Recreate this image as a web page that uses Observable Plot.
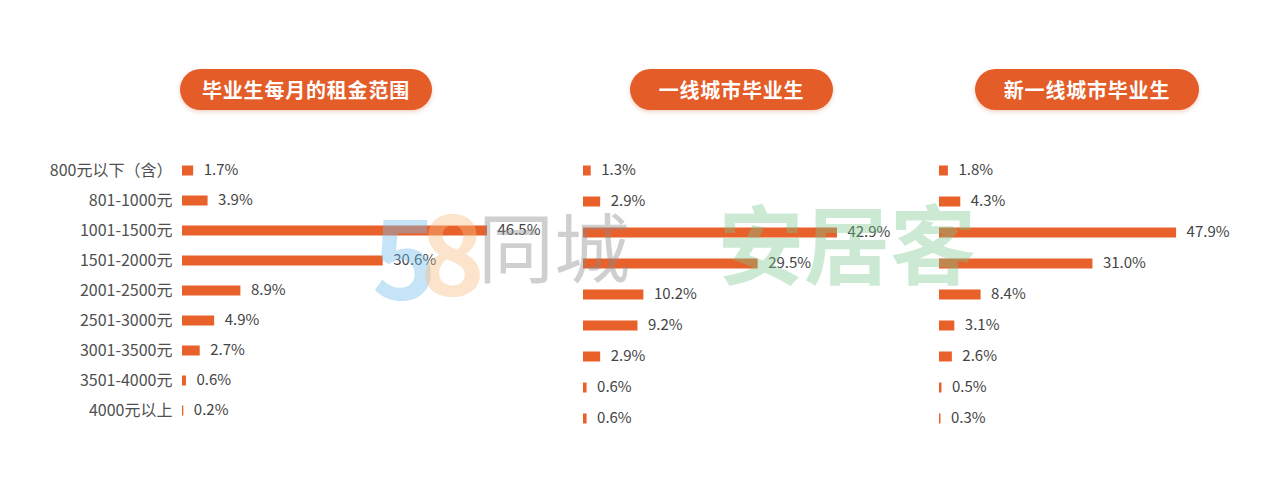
<!DOCTYPE html>
<html>
<head>
<meta charset="utf-8">
<script src="https://cdn.jsdelivr.net/npm/d3@7"></script>
<script src="https://cdn.jsdelivr.net/npm/@observablehq/plot@0.6"></script>
<style>
  html, body { margin: 0; padding: 0; background: #fff; }
  #root { position: relative; width: 1280px; height: 494px; overflow: hidden; font-family: "Noto Sans CJK SC", "Noto Sans", sans-serif; }
  .panel { position: absolute; top: 0; }
  .pill { position: absolute; top: 69px; height: 41px; border-radius: 21px; background: #E45C28; color: #fff;
          font-weight: 700; font-size: 20px; line-height: 41px; text-align: center; letter-spacing: 0.8px;
          box-shadow: 0 2px 4px rgba(200,80,30,0.25); }
  .wm { position: absolute; pointer-events: none; white-space: nowrap; line-height: 1; }
</style>
</head>
<body>
<div id="root"></div>
<script>
const categories = ["800元以下（含）", "801-1000元", "1001-1500元", "1501-2000元", "2001-2500元", "2501-3000元", "3001-3500元", "3501-4000元", "4000元以上"];
const allGraduates = [1.7, 3.9, 46.5, 30.6, 8.9, 4.9, 2.7, 0.6, 0.2];
const tier1Graduates = [1.3, 2.9, 42.9, 29.5, 10.2, 9.2, 2.9, 0.6, 0.6];
const newTier1Graduates = [1.8, 4.3, 47.9, 31.0, 8.4, 3.1, 2.6, 0.5, 0.3];
const panelTitles = ["毕业生每月的租金范围", "一线城市毕业生", "新一线城市毕业生"];

const root = document.getElementById("root");
const ORANGE = "#E8602A";

function makePanel({values, left, width, x0, pxPer, yTop, yBottom, showAxis}) {
  const data = categories.map((c, i) => ({cat: c, v: values[i]}));
  const marks = [];
  if (showAxis) {
    marks.push(Plot.ruleX([0], {y1: categories[0], y2: categories[categories.length - 1], stroke: "#e6e6e6", strokeWidth: 1, insetTop: -14, insetBottom: -14}));
    marks.push(Plot.axisY({tickSize: 0, tickPadding: 10, label: null, fontSize: 16, fill: "#505050"}));
  }
  marks.push(Plot.ruleY(data, {y: "cat", x1: 0, x2: "v", stroke: ORANGE, strokeWidth: 10}));
  marks.push(Plot.text(data, {y: "cat", x: "v", text: d => d.v.toFixed(1) + "%", dx: 10, textAnchor: "start", fill: "#444", fontSize: 15}));
  const chart = Plot.plot({
    width, height: 494,
    marginLeft: x0, marginRight: 0, marginTop: 0, marginBottom: 0,
    style: {fontFamily: "Noto Sans CJK SC, Noto Sans, sans-serif", fontSize: "15px", color: "#555", background: "transparent"},
    x: {domain: [0, 60], range: [x0, x0 + 60 * pxPer], axis: null},
    y: {type: "point", domain: categories, range: [yTop, yBottom], padding: 0, axis: null},
    marks
  });
  const wrap = document.createElement("div");
  wrap.className = "panel";
  wrap.style.left = left + "px";
  wrap.appendChild(chart);
  root.appendChild(wrap);
}

makePanel({values: allGraduates, left: 0, width: 560, x0: 182, pxPer: 6.56, yTop: 169, yBottom: 410, showAxis: true});
makePanel({values: tier1Graduates, left: 560, width: 360, x0: 23, pxPer: 5.92, yTop: 169, yBottom: 418, showAxis: false});
makePanel({values: newTier1Graduates, left: 920, width: 360, x0: 19, pxPer: 4.95, yTop: 169, yBottom: 418, showAxis: false});

const pills = [{left: 180, width: 252}, {left: 630, width: 203}, {left: 975, width: 224}];
pills.forEach((p, i) => {
  const d = document.createElement("div");
  d.className = "pill";
  d.style.left = p.left + "px";
  d.style.width = p.width + "px";
  d.textContent = panelTitles[i];
  root.appendChild(d);
});

// faint watermark
const wms = [
  {t: "5", left: 372, top: 196, size: 110, weight: 700, color: "rgba(120,190,235,0.42)"},
  {t: "8", left: 420, top: 192, size: 110, weight: 700, color: "rgba(245,190,130,0.42)"},
  {t: "同城", left: 478, top: 206, size: 76, weight: 400, color: "rgba(140,140,140,0.42)"},
  {t: "安居客", left: 718, top: 198, size: 86, weight: 700, color: "rgba(120,200,140,0.38)"}
];
wms.forEach(w => {
  const s = document.createElement("span");
  s.className = "wm";
  s.style.left = w.left + "px";
  s.style.top = w.top + "px";
  s.style.fontSize = w.size + "px";
  s.style.fontWeight = w.weight;
  s.style.color = w.color;
  s.textContent = w.t;
  root.appendChild(s);
});
</script>
</body>
</html>
